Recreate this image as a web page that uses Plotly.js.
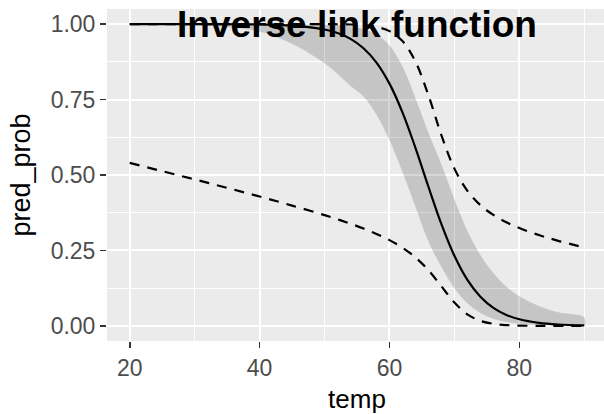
<!DOCTYPE html>
<html>
<head>
<meta charset="utf-8">
<script src="https://cdn.plot.ly/plotly-3.0.1.min.js"></script>
<style>
  html, body { margin: 0; padding: 0; overflow: hidden; background: #fff; }
  #chart { width: 608px; height: 414px; }
</style>
</head>
<body>
<div id="chart"></div>
<script>
// temperature grid
var temp = [20,25,30,35,40,45,50,52,54,56,58,60,62,64,66,68,70,72,74,76,78,80,83,86,90];
// fitted probability (inverse link)
var predProb = [1.0000,1.0000,0.9999,0.9996,0.9987,0.9951,0.9821,0.9702,0.9509,0.9201,0.8726,0.8028,0.7077,0.5900,0.4611,0.3372,0.2322,0.1524,0.0966,0.0597,0.0364,0.0220,0.0102,0.0047,0.0017];
// shaded band
var bandLow = [0.9990,0.9980,0.9960,0.9900,0.9750,0.9350,0.8700,0.8350,0.7950,0.7600,0.7000,0.6150,0.5100,0.3950,0.2800,0.1950,0.1250,0.0750,0.0430,0.0240,0.0130,0.0070,0.0030,0.0010,0.0003];
var bandHigh = [1.0000,1.0000,1.0000,1.0000,1.0000,0.9997,0.9982,0.9962,0.9920,0.9832,0.9653,0.9300,0.8600,0.7550,0.6400,0.5350,0.4200,0.3150,0.2350,0.1750,0.1300,0.0980,0.0660,0.0450,0.0280];
// dashed interval lines
var dashLow = [0.5400,0.5128,0.4853,0.4574,0.4287,0.3987,0.3670,0.3532,0.3385,0.3228,0.3049,0.2843,0.2592,0.2270,0.1844,0.1311,0.0775,0.0383,0.0168,0.0069,0.0027,0.0011,0.0002,0.0000,0.0000];
var dashHigh = [1.0000,1.0000,1.0000,1.0000,1.0000,1.0000,0.9998,0.9995,0.9986,0.9964,0.9907,0.9766,0.9437,0.8757,0.7641,0.6316,0.5212,0.4477,0.4001,0.3677,0.3434,0.3243,0.3011,0.2819,0.2600];

var xTicks = [20,40,60,80];
var yTicks = [0,0.25,0.5,0.75,1];
var yTickText = ["0.00","0.25","0.50","0.75","1.00"];

var FONT = "Liberation Sans, Arial, Helvetica, sans-serif";

var bandX = temp.concat(temp.slice().reverse());
var bandY = bandHigh.concat(bandLow.slice().reverse());

var traces = [
  { x: bandX, y: bandY, type: "scatter", mode: "lines", fill: "toself",
    fillcolor: "rgba(0,0,0,0.16)", line: { width: 0, shape: "spline" }, hoverinfo: "skip" },
  { x: temp, y: predProb, type: "scatter", mode: "lines",
    line: { color: "#000", width: 2.2, shape: "spline" } },
  { x: temp, y: dashLow, type: "scatter", mode: "lines",
    line: { color: "#000", width: 2.2, dash: "10px,8px", shape: "spline" } },
  { x: temp, y: dashHigh, type: "scatter", mode: "lines",
    line: { color: "#000", width: 2.2, dash: "10px,8px", shape: "spline" } }
];

var axisCommon = {
  showline: false, zeroline: false,
  gridcolor: "#FFFFFF", gridwidth: 2,
  ticks: "outside", ticklen: 6, tickwidth: 1.6, tickcolor: "#333333",
  tickfont: { family: FONT, size: 23, color: "#4D4D4D" }
};

var layout = {
  width: 608, height: 414,
  margin: { l: 107, r: 1, t: 9, b: 73 },
  paper_bgcolor: "#FFFFFF",
  plot_bgcolor: "#EBEBEB",
  showlegend: false,
  title: {
    text: "<b>Inverse link function</b>",
    font: { family: FONT, size: 37, color: "#000" },
    x: 0.5, xref: "paper", xanchor: "center",
    y: 0.942, yref: "container", yanchor: "middle"
  },
  xaxis: Object.assign({}, axisCommon, {
    range: [16.5, 93.5],
    tickvals: xTicks,
    minor: { dtick: 10, tick0: 10, showgrid: true, gridcolor: "#FFFFFF", gridwidth: 1, ticks: "" },
    title: { text: "temp", font: { family: FONT, size: 26, color: "#000" }, standoff: 12 }
  }),
  yaxis: Object.assign({}, axisCommon, {
    range: [-0.05, 1.05],
    tickvals: yTicks, ticktext: yTickText,
    minor: { dtick: 0.125, tick0: 0.125, showgrid: true, gridcolor: "#FFFFFF", gridwidth: 1, ticks: "" },
    title: { text: "pred_prob", font: { family: FONT, size: 27, color: "#000" }, standoff: 12 }
  })
};

Plotly.newPlot("chart", traces, layout, { staticPlot: true, displayModeBar: false });
</script>
</body>
</html>
